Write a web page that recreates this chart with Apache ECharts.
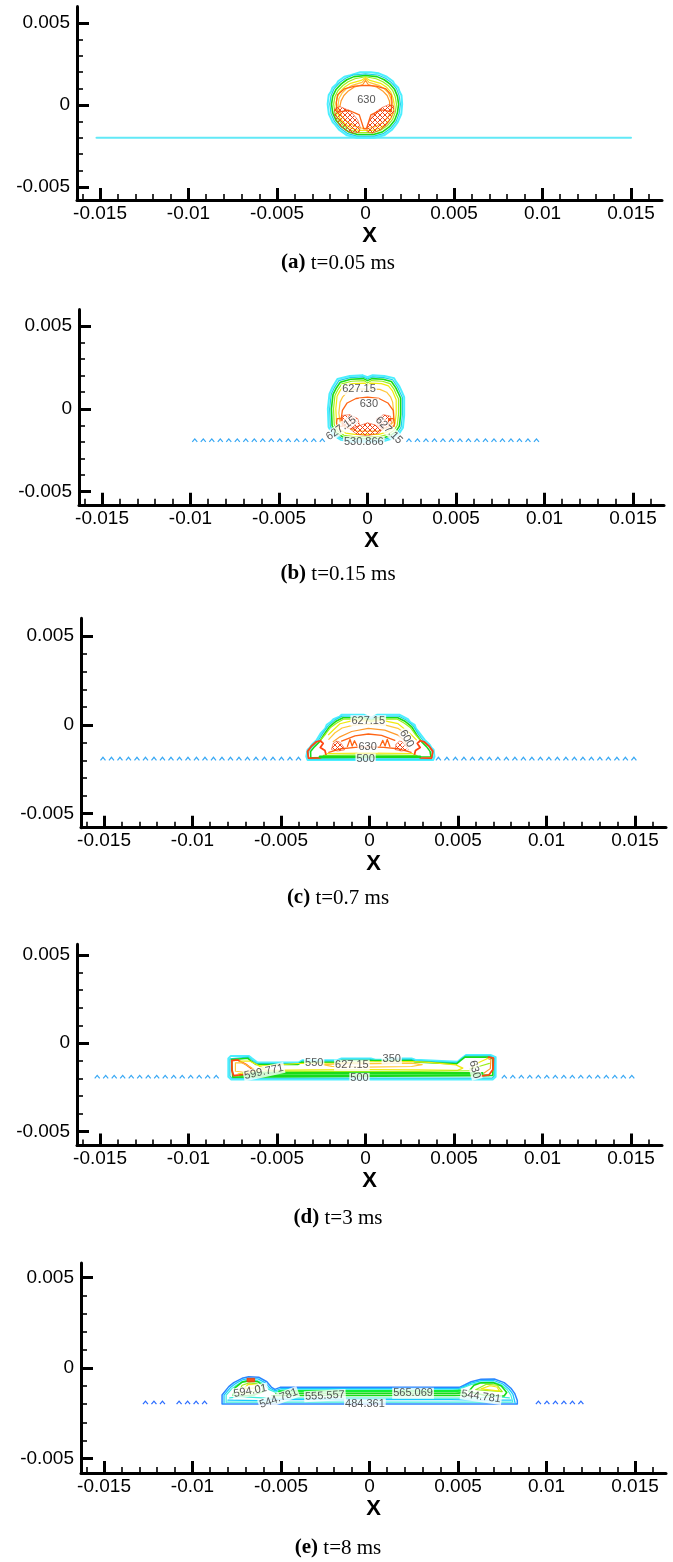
<!DOCTYPE html>
<html>
<head>
<meta charset="utf-8">
<script src="https://cdn.jsdelivr.net/npm/echarts@6/dist/echarts.min.js"></script>
<style>
html,body{margin:0;padding:0;background:#fff;}
#chart{width:673px;height:1562px;}
</style>
</head>
<body>
<div id="chart"></div>
<script>
// ---------- axis ticks (metres) ----------
const X_MAJOR = [-0.015, -0.01, -0.005, 0, 0.005, 0.01, 0.015];
const X_MAJOR_TEXT = ['-0.015', '-0.01', '-0.005', '0', '0.005', '0.01', '0.015'];
const X_MINOR = [-0.016, -0.014, -0.013, -0.012, -0.011, -0.009, -0.008, -0.007, -0.006,
  -0.004, -0.003, -0.002, -0.001, 0.001, 0.002, 0.003, 0.004, 0.006, 0.007, 0.008, 0.009,
  0.011, 0.012, 0.013, 0.014, 0.016];
const Y_MAJOR = [-0.005, 0, 0.005];
const Y_MAJOR_TEXT = ['-0.005', '0', '0.005'];
const Y_MINOR = [-0.004, -0.003, -0.002, -0.001, 0.001, 0.002, 0.003, 0.004];

const CAPTIONS = [['(a)', ' t=0.05 ms'], ['(b)', ' t=0.15 ms'], ['(c)', ' t=0.7 ms'], ['(d)', ' t=3 ms'], ['(e)', ' t=8 ms']];

// ---------- contour lines, in millimetres [x, y] ----------
// (a) t = 0.05 ms
const a_substrate = [[-15.2, -2.0], [15.0, -2.0]];
const a_rim_cyan = [[-0.3,2.0],[0.3,2.0],[0.75,1.93],[0.85,1.82],[1.2,1.72],[1.55,1.45],[1.62,1.3],[1.85,1.05],[1.92,0.82],[2.03,0.6],[2.07,0.05],[2.02,-0.55],[1.82,-1.05],[1.72,-1.2],[1.5,-1.5],[1.05,-1.85],[0.5,-2.0],[-0.5,-2.0],[-1.05,-1.85],[-1.5,-1.5],[-1.72,-1.2],[-1.85,-1.05],[-2.07,-0.55],[-2.14,0.05],[-2.08,0.6],[-1.95,0.82],[-1.87,1.05],[-1.62,1.3],[-1.55,1.45],[-1.2,1.72],[-0.85,1.82],[-0.75,1.93],[-0.3,2.0]];
const a_rim_teal = [[0,1.9],[0.7,1.83],[1.13,1.63],[1.46,1.37],[1.75,1.0],[1.9,0.57],[1.97,0.05],[1.9,-0.52],[1.73,-1.0],[1.42,-1.42],[1.0,-1.75],[0.48,-1.9],[-0.48,-1.9],[-1.0,-1.75],[-1.42,-1.42],[-1.75,-1.0],[-1.95,-0.52],[-2.02,0.05],[-1.95,0.57],[-1.77,1.0],[-1.46,1.37],[-1.13,1.63],[-0.7,1.83],[0,1.9]];
const a_rim_green = [[0,1.8],[0.65,1.73],[1.06,1.54],[1.37,1.29],[1.65,0.94],[1.8,0.54],[1.87,0.05],[1.8,-0.49],[1.64,-0.95],[1.34,-1.34],[0.94,-1.65],[0.45,-1.8],[-0.45,-1.8],[-0.94,-1.65],[-1.34,-1.34],[-1.66,-0.95],[-1.85,-0.49],[-1.92,0.05],[-1.85,0.54],[-1.67,0.94],[-1.37,1.29],[-1.06,1.54],[-0.65,1.73],[0,1.8]];
const a_rim_lime = [[0,1.72],[0.6,1.6],[0.98,1.42],[1.28,1.19],[1.54,0.87],[1.68,0.5],[1.75,0.05],[1.68,-0.45],[1.53,-0.88],[1.25,-1.25],[0.87,-1.53],[0.42,-1.68],[-0.42,-1.68],[-0.87,-1.53],[-1.25,-1.25],[-1.55,-0.88],[-1.73,-0.45],[-1.8,0.05],[-1.73,0.5],[-1.56,0.87],[-1.28,1.19],[-0.98,1.42],[-0.6,1.6],[0,1.72]];
const a_yellow = [[0,1.68],[0.25,1.5],[0.85,1.32],[1.17,1.1],[1.42,0.8],[1.55,0.45],[1.62,0.05],[1.56,-0.42],[1.42,-0.82],[1.15,-1.16],[0.8,-1.42],[0.38,-1.55],[-0.38,-1.55],[-0.8,-1.42],[-1.15,-1.16],[-1.44,-0.82],[-1.61,-0.42],[-1.67,0.05],[-1.6,0.45],[-1.45,0.8],[-1.17,1.1],[-0.85,1.32],[-0.25,1.5],[0,1.68]];
const a_amber = [[0,1.62],[0.2,1.38],[0.75,1.2],[1.05,1.0],[1.3,0.72],[1.43,0.4],[1.48,0.0],[1.44,-0.35],[1.3,-0.7],[1.0,-1.05],[0.6,-1.3],[0.2,-1.42],[-0.2,-1.42],[-0.6,-1.3],[-1.0,-1.05],[-1.33,-0.7],[-1.5,-0.35],[-1.55,0.0],[-1.5,0.4],[-1.33,0.72],[-1.07,1.0],[-0.75,1.2],[-0.2,1.38],[0,1.62]];
const a_orange = [[-1.45,-0.1],[-1.38,0.25],[-1.22,0.58],[-0.97,0.86],[-0.65,1.08],[-0.15,1.25],[0,1.5],[0.15,1.25],[0.65,1.08],[0.97,0.86],[1.22,0.58],[1.35,0.25],[1.38,-0.1]];
const a_630 = [[-1.6,-0.45],[-1.65,0.15],[-1.58,0.62],[-1.2,0.98],[-0.6,1.15],[0,1.2],[0.6,1.15],[1.15,0.98],[1.45,0.62],[1.5,0.15],[1.45,-0.4],[0.9,-0.3],[0.3,-0.6],[0.05,-1.45],[-0.1,-1.45],[-0.35,-0.6],[-0.95,-0.32],[-1.6,-0.45]];
const a_blob_left = [[-1.72,-0.2],[-1.45,-0.1],[-1.1,-0.25],[-0.75,-0.5],[-0.45,-0.9],[-0.3,-1.35],[-0.35,-1.65],[-0.7,-1.72],[-1.1,-1.55],[-1.45,-1.25],[-1.7,-0.8],[-1.78,-0.45],[-1.72,-0.2]];
const a_blob_right = [[1.58,-0.05],[1.3,0.02],[0.95,-0.15],[0.6,-0.4],[0.3,-0.8],[0.12,-1.25],[0.08,-1.62],[0.4,-1.72],[0.85,-1.5],[1.2,-1.2],[1.45,-0.8],[1.62,-0.4],[1.58,-0.05]];
const a_labels = [['630', 0.05, 0.3]];

// (b) t = 0.15 ms
const b_substrate = [[-9.9, -2.25, -2.0], [2.2, 9.8, -2.0]];
const b_rim_cyan = [[-0.27,2.02],[0,1.9],[0.29,2.02],[0.95,1.98],[1.5,1.85],[1.62,1.62],[1.8,1.35],[1.95,1.0],[2.07,0.7],[2.07,-0.4],[2.0,-1.15],[1.75,-1.55],[1.35,-1.82],[0.8,-2.0],[-0.9,-2.0],[-1.5,-1.88],[-1.95,-1.58],[-2.2,-1.1],[-2.24,0.0],[-2.15,0.9],[-1.98,1.3],[-1.7,1.8],[-1.0,1.98],[-0.27,2.02]];
const b_rim_teal = [[-0.25,1.92],[0,1.8],[0.27,1.92],[0.92,1.88],[1.42,1.75],[1.7,1.3],[1.85,0.95],[1.97,0.68],[1.97,-0.38],[1.9,-1.1],[1.67,-1.48],[1.3,-1.73],[0.78,-1.9],[-0.88,-1.9],[-1.45,-1.79],[-1.86,-1.52],[-2.1,-1.06],[-2.14,0.0],[-2.05,0.88],[-1.88,1.26],[-1.62,1.7],[-0.98,1.88],[-0.25,1.92]];
const b_rim_green = [[-0.23,1.82],[0,1.7],[0.25,1.82],[0.88,1.78],[1.35,1.65],[1.6,1.26],[1.75,0.92],[1.87,0.65],[1.87,-0.36],[1.8,-1.05],[1.58,-1.41],[1.24,-1.64],[0.75,-1.8],[-0.85,-1.8],[-1.4,-1.7],[-1.77,-1.45],[-2.0,-1.02],[-2.04,0.0],[-1.95,0.85],[-1.78,1.22],[-1.54,1.6],[-0.95,1.78],[-0.23,1.82]];
const b_rim_lime = [[-0.2,1.7],[0,1.55],[0.22,1.7],[0.84,1.66],[1.27,1.52],[1.5,1.18],[1.63,0.86],[1.75,0.6],[1.75,-0.34],[1.68,-1.0],[1.48,-1.32],[1.16,-1.54],[0.7,-1.68],[-0.8,-1.68],[-1.33,-1.6],[-1.67,-1.36],[-1.88,-0.97],[-1.92,0.0],[-1.84,0.8],[-1.67,1.16],[-1.45,1.5],[-0.9,1.66],[-0.2,1.7]];
const b_yellow = [[-0.15,1.55],[0,1.4],[0.18,1.55],[0.78,1.52],[1.18,1.38],[1.4,1.1],[1.52,0.8],[1.62,0.55],[1.62,-0.3],[1.55,-0.92],[1.36,-1.22],[1.06,-1.42],[0.64,-1.55],[-0.72,-1.55],[-1.24,-1.47],[-1.56,-1.26],[-1.75,-0.9],[-1.79,0.0],[-1.72,0.75],[-1.56,1.08],[-1.35,1.38],[-0.85,1.52],[-0.15,1.55]];
const b_amber = [[0,1.05],[0.15,1.2],[0.7,1.17],[1.08,1.0],[1.3,0.72],[1.42,0.4],[1.48,-0.25],[1.45,-0.8],[1.2,-1.1],[0.6,-1.35],[-0.6,-1.35],[-1.25,-1.1],[-1.55,-0.8],[-1.62,-0.25],[-1.55,0.4],[-1.4,0.72],[-1.15,1.0],[-0.75,1.17],[-0.15,1.2],[0,1.05]];
const b_630 = [[-1.5,-0.7],[-1.42,-0.1],[-1.15,0.35],[-0.65,0.62],[0,0.7],[0.65,0.62],[1.15,0.35],[1.45,-0.1],[1.5,-0.7]];
const b_loop_left = [[-1.72,-0.6],[-1.45,-0.58],[-1.4,-0.8],[-1.42,-1.05],[-1.7,-1.08],[-1.75,-0.85],[-1.72,-0.6]];
const b_loop_right = [[1.2,-0.58],[1.47,-0.6],[1.52,-0.85],[1.5,-1.06],[1.22,-1.05],[1.18,-0.8],[1.2,-0.58]];
const b_hatch_left = [[-1.42,-0.4],[-1.0,-0.36],[-0.55,-0.6],[-0.45,-1.0],[-0.8,-1.22],[-1.3,-1.15],[-1.45,-0.8],[-1.42,-0.4]];
const b_hatch_right = [[0.5,-0.6],[0.9,-0.36],[1.3,-0.45],[1.35,-0.85],[1.1,-1.15],[0.6,-1.1],[0.5,-0.6]];
const b_hatch_bottom = [[-1.0,-1.2],[-0.4,-1.0],[0.0,-0.85],[0.5,-1.0],[0.9,-1.2],[0.6,-1.5],[0.0,-1.62],[-0.6,-1.55],[-1.0,-1.2]];
const b_labels = [['627.15', -0.48, 1.17], ['630', 0.08, 0.3], ['627.15', -1.49, -1.18], ['627.15', 1.21, -1.3], ['530.866', -0.21, -2.0]];

// (c) t = 0.7 ms
const c_substrate = [[-15.2, -3.6, -2.0], [3.75, 15.5, -2.0]];
const c_rim_cyan = [[-1.58,0.56],[-0.3,0.56],[0.1,0.4],[0.42,0.56],[1.71,0.56],[1.8,0.45],[2.17,0.32],[2.3,0.15],[2.55,0.0],[2.62,-0.2],[2.83,-0.47],[3.12,-0.85],[3.4,-1.13],[3.5,-1.3],[3.62,-1.41],[3.67,-1.79],[3.6,-1.98],[-3.5,-1.98],[-3.57,-1.79],[-3.5,-1.41],[-3.38,-1.3],[-3.26,-1.13],[-2.98,-0.85],[-2.75,-0.47],[-2.5,-0.2],[-2.42,0.0],[-2.2,0.15],[-2.04,0.32],[-1.7,0.45],[-1.58,0.56]];
const c_rim_teal = [[-1.55,0.48],[-0.3,0.48],[0.1,0.32],[0.42,0.48],[1.66,0.48],[2.1,0.25],[2.47,-0.06],[2.74,-0.5],[3.03,-0.9],[3.31,-1.18],[3.52,-1.45],[3.57,-1.8],[3.5,-1.92],[-3.42,-1.92],[-3.48,-1.8],[-3.42,-1.45],[-3.18,-1.18],[-2.9,-0.9],[-2.66,-0.5],[-2.34,-0.06],[-1.98,0.25],[-1.55,0.48]];
const c_rim_green = [[-1.5,0.4],[-0.3,0.4],[0.1,0.24],[0.42,0.4],[1.6,0.4],[2.03,0.18],[2.39,-0.12],[2.65,-0.55],[2.94,-0.95],[3.22,-1.23],[3.42,-1.5],[3.47,-1.8],[3.4,-1.86],[-3.32,-1.86],[-3.38,-1.8],[-3.33,-1.5],[-3.1,-1.23],[-2.82,-0.95],[-2.57,-0.55],[-2.27,-0.12],[-1.92,0.18],[-1.5,0.4]];
const c_rim_lime = [[-2.75,-0.85],[-2.48,-0.52],[-2.2,-0.15],[-1.85,0.1],[-1.45,0.32],[-0.3,0.32],[0.1,0.16],[0.42,0.32],[1.55,0.32],[1.95,0.1],[2.3,-0.15],[2.57,-0.52],[2.85,-0.85]];
const c_yellow_627 = [[-2.32,-0.56],[-2.0,-0.25],[-1.67,0.06],[-1.01,0.22],[0.86,0.22],[1.61,0.06],[2.27,-0.47],[2.65,-0.85]];
const c_yellow_b = [[-2.3,-0.82],[-1.95,-0.45],[-1.55,-0.18],[-0.9,-0.02],[0,0.04],[0.9,-0.02],[1.6,-0.2],[2.05,-0.5],[2.35,-0.85]];
const c_orange_600 = [[-2.05,-0.95],[-1.67,-0.68],[-1.01,-0.38],[-0.07,-0.2],[0.86,-0.3],[1.61,-0.58],[1.99,-0.9],[2.15,-1.2]];
const c_redorange = [[-1.58,-0.92],[-0.82,-0.62],[-0.07,-0.52],[0.68,-0.6],[1.43,-0.88]];
const c_630 = [[-2.3,-1.55],[-1.6,-1.35],[-0.8,-1.27],[0,-1.25],[0.8,-1.27],[1.6,-1.35],[2.35,-1.55]];
const c_foot_left = [[-3.5,-1.5],[-3.3,-1.22],[-3.02,-0.97],[-2.78,-0.9],[-2.62,-1.05],[-2.78,-1.28],[-2.52,-1.45],[-2.45,-1.7],[-2.78,-1.86],[-3.45,-1.88],[-3.5,-1.5]];
const c_foot_right = [[3.58,-1.5],[3.38,-1.22],[3.1,-0.97],[2.86,-0.9],[2.7,-1.05],[2.86,-1.28],[2.6,-1.45],[2.53,-1.7],[2.86,-1.86],[3.5,-1.88],[3.58,-1.5]];
const c_spike_l = [[-1.25,-1.22],[-1.1,-0.82],[-0.98,-1.2],[-0.85,-0.9],[-0.7,-1.2]];
const c_spike_r = [[0.6,-1.2],[0.75,-0.88],[0.88,-1.2],[1.0,-0.82],[1.15,-1.22]];
const c_bot_yellow = [[-2.4,-1.62],[0,-1.6],[2.45,-1.62]];
const c_bot_lime = [[-2.6,-1.72],[0,-1.7],[2.65,-1.72]];
const c_bot_green = [[-2.8,-1.8],[0,-1.8],[2.85,-1.8]];
const c_flame_left = [[-2.15,-1.4],[-2.05,-1.05],[-1.85,-0.92],[-1.65,-1.0],[-1.5,-1.2],[-1.42,-1.42],[-1.8,-1.48],[-2.15,-1.4]];
const c_flame_right = [[1.45,-1.4],[1.5,-1.1],[1.7,-0.92],[1.95,-0.98],[2.12,-1.2],[2.2,-1.42],[1.8,-1.48],[1.45,-1.4]];
const c_labels = [['627.15', -0.07, 0.22], ['600', 2.1, -0.78], ['630', -0.11, -1.27], ['500', -0.22, -1.92]];

// (d) t = 3 ms
const d_substrate = [[-15.3, -8.0, -2.0], [7.7, 15.5, -2.0]];
const d_rim_cyan = [[-7.75,-0.87],[-7.61,-0.74],[-6.58,-0.74],[-6.4,-0.88],[-6.1,-1.1],[-3.77,-1.1],[-3.55,-0.97],[-1.6,-0.97],[-1.35,-0.87],[0.3,-0.87],[0.55,-0.95],[1.1,-0.95],[1.3,-0.87],[2.6,-0.87],[2.8,-0.95],[5.2,-1.06],[5.45,-0.85],[5.68,-0.68],[7.09,-0.68],[7.35,-0.8],[7.35,-1.91],[7.2,-2.06],[-7.6,-2.06],[-7.75,-1.91],[-7.75,-0.87]];
const d_rim_teal = [[-7.66,-0.9],[-7.55,-0.8],[-6.62,-0.8],[-6.45,-0.94],[-6.14,-1.16],[-3.8,-1.16],[-3.58,-1.03],[-1.6,-1.03],[-1.35,-0.93],[0.3,-0.93],[0.55,-1.01],[1.1,-1.01],[1.3,-0.93],[2.6,-0.93],[2.8,-1.01],[5.17,-1.12],[5.42,-0.91],[5.65,-0.74],[7.04,-0.74],[7.27,-0.85],[7.27,-1.87],[7.15,-1.99],[-7.55,-1.99],[-7.66,-1.87],[-7.66,-0.9]];
const d_rim_green = [[-7.57,-0.94],[-7.49,-0.86],[-6.66,-0.86],[-6.5,-1.0],[-6.18,-1.22],[-3.83,-1.22],[-3.6,-1.09],[-1.6,-1.09],[-1.35,-0.99],[2.6,-0.99],[2.8,-1.07],[5.14,-1.18],[5.4,-0.97],[5.62,-0.8],[6.99,-0.8],[7.19,-0.9],[7.19,-1.83],[7.1,-1.93],[-7.5,-1.93],[-7.57,-1.83],[-7.57,-0.94]];
const d_yellow_550 = [[-6.0,-1.3],[-3.8,-1.16],[-1.6,-1.13],[0.3,-1.06],[2.6,-1.05],[3.6,-1.1],[5.1,-1.24],[5.5,-1.42],[5.2,-1.55],[3.0,-1.52],[0,-1.5],[-3.0,-1.52],[-5.6,-1.55],[-6.0,-1.3]];
const d_amber_627 = [[-2.4,-1.22],[-1.6,-1.18],[0.5,-1.17],[2.6,-1.14],[3.2,-1.22],[2.6,-1.33],[0,-1.36],[-1.9,-1.32],[-2.4,-1.22]];
const d_lime_bot = [[-6.4,-1.6],[-3.0,-1.61],[0,-1.61],[3.0,-1.61],[6.0,-1.57]];
const d_green_bot1 = [[-6.9,-1.72],[-3.0,-1.71],[3.0,-1.71],[6.6,-1.72]];
const d_green_bot2 = [[-7.1,-1.83],[0,-1.83],[7.0,-1.83]];
const d_left_red = [[-7.55,-1.0],[-7.25,-0.95],[-6.75,-1.22],[-6.3,-1.55],[-6.85,-1.78],[-7.45,-1.85],[-7.55,-1.55],[-7.55,-1.0]];
const d_left_amber = [[-7.35,-1.12],[-6.95,-1.12],[-6.3,-1.48],[-6.95,-1.64],[-7.35,-1.6],[-7.35,-1.12]];
const d_left_yellow = [[-7.1,-1.02],[-6.55,-1.02],[-5.7,-1.45],[-6.6,-1.66],[-7.2,-1.74]];
const d_right_red = [[6.95,-0.8],[7.22,-0.86],[7.2,-1.5],[6.98,-1.8],[6.5,-1.88]];
const d_right_amber = [[6.85,-0.85],[7.08,-0.95],[7.05,-1.45],[6.7,-1.7]];
const d_right_fan1 = [[5.9,-1.45],[6.4,-1.1],[6.9,-0.88]];
const d_right_fan2 = [[5.9,-1.48],[6.5,-1.3],[7.0,-1.15]];
const d_labels = [['599.771', -5.74, -1.63], ['550', -2.9, -1.14], ['627.15', -0.77, -1.26], ['350', 1.48, -0.89], ['630', 6.17, -1.5], ['500', -0.34, -2.0]];

// (e) t = 8 ms
const e_substrate = [[-12.8, -11.3, -2.0], [-10.9, -8.9, -2.0], [9.4, 12.1, -2.0]];
const e_rim_blue = [[-8.33,-1.99],[-8.33,-1.49],[-8.24,-1.38],[-7.95,-1.03],[-7.67,-0.81],[-7.2,-0.57],[-6.83,-0.48],[-6.26,-0.51],[-5.8,-0.76],[-5.55,-1.05],[-5.35,-1.18],[-5.05,-1.07],[5.08,-1.07],[5.37,-0.94],[5.74,-0.76],[6.3,-0.62],[7.05,-0.61],[7.61,-0.81],[7.99,-1.12],[8.2,-1.4],[8.35,-1.8],[8.35,-1.99],[-8.33,-1.99]];
const e_rim_cyan = [[-8.22,-1.95],[-8.22,-1.5],[-8.12,-1.4],[-7.86,-1.08],[-7.6,-0.88],[-7.18,-0.65],[-6.83,-0.57],[-6.3,-0.6],[-5.88,-0.82],[-5.62,-1.12],[-5.33,-1.26],[-5.0,-1.14],[5.05,-1.14],[5.35,-1.01],[5.74,-0.84],[6.3,-0.7],[7.02,-0.69],[7.52,-0.87],[7.88,-1.16],[8.1,-1.44],[8.23,-1.95]];
const e_rim_mint = [[-8.1,-1.9],[-8.1,-1.5],[-8.0,-1.42],[-7.76,-1.13],[-7.52,-0.95],[-7.15,-0.73],[-6.83,-0.66],[-6.35,-0.69],[-5.96,-0.88],[-5.7,-1.18],[-5.32,-1.33],[-4.95,-1.21],[5.0,-1.21],[5.32,-1.08],[5.72,-0.92],[6.3,-0.78],[6.98,-0.77],[7.44,-0.93],[7.78,-1.2],[7.98,-1.48],[8.1,-1.9]];
const e_green_top = [[-5.1,-1.3],[-4.6,-1.28],[4.7,-1.28],[5.2,-1.25]];
const e_green_mid = [[-5.3,-1.42],[-4.6,-1.4],[4.8,-1.4],[5.4,-1.36]];
const e_green_low = [[-5.5,-1.53],[-4.6,-1.52],[4.8,-1.52],[5.6,-1.5]];
const e_cyan_low1 = [[-7.9,-1.65],[-7.3,-1.58],[-6.6,-1.62],[-5.8,-1.66],[5.8,-1.66],[6.5,-1.62],[7.2,-1.58],[7.9,-1.65]];
const e_cyan_low2 = [[-8.0,-1.78],[-6.2,-1.8],[-5.5,-1.75],[-4.6,-1.73],[4.6,-1.75],[6.2,-1.78],[8.0,-1.78]];
const e_cyan_low3 = [[-8.05,-1.88],[0,-1.88],[8.05,-1.88]];
const e_lb_green = [[-7.7,-1.5],[-7.6,-1.1],[-7.2,-0.78],[-6.83,-0.72],[-6.3,-0.76],[-6.05,-0.95],[-6.0,-1.3],[-6.6,-1.5],[-7.2,-1.55],[-7.7,-1.5]];
const e_lb_lime = [[-7.4,-1.35],[-7.2,-0.95],[-6.8,-0.82],[-6.35,-0.88],[-6.2,-1.1],[-6.5,-1.3],[-7.0,-1.4],[-7.4,-1.35]];
const e_lb_yellow = [[-7.1,-1.15],[-6.85,-0.9],[-6.4,-0.95],[-6.45,-1.1],[-7.1,-1.15]];
const e_lb_hot = [[-6.92,-0.57],[-6.49,-0.57],[-6.49,-0.76],[-6.92,-0.76],[-6.92,-0.57]];
const e_rb_green = [[5.6,-1.3],[5.9,-0.95],[6.3,-0.82],[7.0,-0.82],[7.45,-1.0],[7.75,-1.35],[7.6,-1.55],[6.5,-1.5],[5.6,-1.3]];
const e_rb_lime1 = [[6.0,-1.2],[6.6,-0.9],[7.2,-0.95],[7.5,-1.3],[6.0,-1.2]];
const e_rb_lime2 = [[6.3,-1.15],[6.8,-0.98],[7.2,-1.05],[7.35,-1.28],[6.3,-1.15]];
const e_labels = [['594.01', -6.74, -1.27], ['544.781', -5.14, -1.68], ['555.557', -2.52, -1.53], ['565.069', 2.46, -1.40], ['544.781', 6.3, -1.58], ['484.361', -0.26, -1.99]];

// ---------- styles ----------
const MM = 0.001;
const SANS = '"Liberation Sans", Arial, Helvetica, sans-serif';
const SERIF = '"Liberation Serif", "Times New Roman", Times, serif';
const LINE_STYLE = {
  cyanLine: { color: '#62e9f7', width: 2 },
  cyan:     { color: '#4cefff', width: 2 },
  teal:     { color: '#1fcfe8', width: 1.2 },
  green:    { color: '#18dc18', width: 1.6 },
  greenW:   { color: '#18dc18', width: 2.6 },
  lime:     { color: '#9cef1c', width: 1.2 },
  yellow:   { color: '#f1ea0c', width: 1.2 },
  amber:    { color: '#ffc63a', width: 1.2 },
  orange:   { color: '#ff9a2a', width: 1.2 },
  redorange:{ color: '#ff6414', width: 1.3 },
  red:      { color: '#ff4512', width: 1.8 },
  blue:     { color: '#2a86ff', width: 1.5 },
  sky:      { color: '#18c8ff', width: 1.3 },
  mint:     { color: '#3eeedc', width: 1.2 },
  brightGreen: { color: '#10f030', width: 2.4 }
};
const HATCH_COLOR = '#f0461a';
const CARET_COLOR = [null, '#38a8f4', '#38a8f4', '#38a8f4', '#2a6cff'];
const LABEL_TILT = [[0], [0, 0, 35, -45, 0], [0, -60, 0, 0], [12, 0, 0, 0, -75, 0], [10, 20, 3, 0, -8, 0]];

// panel frames in pixels; y range upper limit per panel (metres)
const FRAME = [
  { left: 77, top: 6.6,   height: 193.5, ymax: 0.006,  cap: 263 },
  { left: 79, top: 309.4, height: 195.4, ymax: 0.006,  cap: 574 },
  { left: 81, top: 618.3, height: 209.4, ymax: 0.006,  cap: 898 },
  { left: 77, top: 944.2, height: 201.2, ymax: 0.0056, cap: 1218 },
  { left: 81, top: 1263,  height: 210,   ymax: 0.0058, cap: 1548 }
];
const PLOT_W = 585, XMIN = -0.0163, XMAX = 0.01675, YMIN = -0.0058, CAPTION_X = 338;

// ---------- what each panel draws ----------
const PANEL_LINES = [
  [[a_substrate,'cyanLine'],[a_rim_cyan,'cyan'],[a_rim_teal,'teal'],[a_rim_green,'green'],[a_rim_lime,'lime'],[a_yellow,'yellow'],[a_amber,'amber'],[a_orange,'orange'],[a_630,'redorange']],
  [[b_rim_cyan,'cyan'],[b_rim_teal,'teal'],[b_rim_green,'green'],[b_rim_lime,'lime'],[b_yellow,'yellow'],[b_amber,'amber'],[b_630,'redorange'],[b_loop_left,'redorange'],[b_loop_right,'redorange']],
  [[c_rim_cyan,'cyan'],[c_rim_teal,'teal'],[c_rim_green,'green'],[c_rim_lime,'lime'],[c_yellow_627,'yellow'],[c_yellow_b,'amber'],[c_orange_600,'orange'],[c_redorange,'redorange'],[c_630,'redorange'],[c_foot_left,'red'],[c_foot_right,'red'],[c_spike_l,'redorange'],[c_spike_r,'redorange'],[c_bot_yellow,'yellow'],[c_bot_lime,'lime'],[c_bot_green,'greenW']],
  [[d_rim_cyan,'cyan'],[d_rim_teal,'teal'],[d_rim_green,'green'],[d_yellow_550,'yellow'],[d_amber_627,'amber'],[d_lime_bot,'lime'],[d_green_bot1,'greenW'],[d_green_bot2,'green'],[d_left_red,'red'],[d_left_amber,'amber'],[d_left_yellow,'yellow'],[d_right_red,'red'],[d_right_amber,'orange'],[d_right_fan1,'yellow'],[d_right_fan2,'lime']],
  [[e_rim_blue,'blue'],[e_rim_cyan,'sky'],[e_rim_mint,'mint'],[e_green_top,'brightGreen'],[e_green_mid,'green'],[e_green_low,'green'],[e_cyan_low1,'mint'],[e_cyan_low2,'sky'],[e_cyan_low3,'mint'],[e_lb_green,'green'],[e_lb_lime,'lime'],[e_lb_yellow,'yellow'],[e_rb_green,'green'],[e_rb_lime1,'lime'],[e_rb_lime2,'yellow']]
];
const PANEL_HATCH = [[a_blob_left, a_blob_right], [b_hatch_left, b_hatch_right, b_hatch_bottom], [c_flame_left, c_flame_right], [], []];
const PANEL_SOLID = [[], [], [], [], [e_lb_hot]];
const PANEL_SUBSTRATE = [[], b_substrate, c_substrate, d_substrate, e_substrate];
const PANEL_LABELS = [a_labels, b_labels, c_labels, d_labels, e_labels];

// small cross-hatch tile for the densely packed hot contours
function hatchTile() {
  const c = document.createElement('canvas');
  c.width = 5; c.height = 5;
  const g = c.getContext('2d');
  g.strokeStyle = HATCH_COLOR; g.lineWidth = 1;
  g.beginPath(); g.moveTo(0, 0); g.lineTo(5, 5); g.moveTo(5, 0); g.lineTo(0, 5); g.stroke();
  return c;
}
const HATCH = hatchTile();

const toM = p => [p[0] * MM, p[1] * MM];
const labelOf = (vals, texts) => v => {
  const k = vals.findIndex(t => Math.abs(t - v) < 1e-9);
  return k < 0 ? '' : texts[k];
};

const grid = [], xAxis = [], yAxis = [], series = [], graphic = [];

FRAME.forEach((f, i) => {
  grid.push({ left: f.left, top: f.top, width: PLOT_W, height: f.height, containLabel: false, outerBoundsMode: 'none' });
  const ax = 2 * i;
  xAxis.push({
    type: 'value', gridIndex: i, min: XMIN, max: XMAX, position: 'bottom',
    axisLine: { show: true, onZero: false, lineStyle: { color: '#000', width: 3 } },
    axisTick: { show: true, inside: true, length: 12, customValues: X_MAJOR, lineStyle: { color: '#000', width: 3 } },
    axisLabel: { show: true, customValues: X_MAJOR, formatter: labelOf(X_MAJOR, X_MAJOR_TEXT), margin: 4, color: '#000', fontSize: 19, fontFamily: SANS },
    splitLine: { show: false },
    name: 'X', nameLocation: 'middle', nameGap: 25,
    nameTextStyle: { color: '#000', fontSize: 22, fontWeight: 'bold', fontFamily: SANS }
  });
  xAxis.push({
    type: 'value', gridIndex: i, min: XMIN, max: XMAX, position: 'bottom',
    axisLine: { show: false, onZero: false },
    axisTick: { show: true, inside: true, length: 6, customValues: X_MINOR, lineStyle: { color: '#000', width: 1.6 } },
    axisLabel: { show: false }, splitLine: { show: false }
  });
  yAxis.push({
    type: 'value', gridIndex: i, min: YMIN, max: f.ymax, position: 'left',
    axisLine: { show: true, onZero: false, lineStyle: { color: '#000', width: 3 } },
    axisTick: { show: true, inside: true, length: 12, customValues: Y_MAJOR, lineStyle: { color: '#000', width: 3 } },
    axisLabel: { show: true, customValues: Y_MAJOR, formatter: labelOf(Y_MAJOR, Y_MAJOR_TEXT), margin: 7, color: '#000', fontSize: 19, fontFamily: SANS },
    splitLine: { show: false }
  });
  yAxis.push({
    type: 'value', gridIndex: i, min: YMIN, max: f.ymax, position: 'left',
    axisLine: { show: false, onZero: false },
    axisTick: { show: true, inside: true, length: 6, customValues: Y_MINOR, lineStyle: { color: '#000', width: 1.6 } },
    axisLabel: { show: false }, splitLine: { show: false }
  });

  // substrate drawn as a row of little carets between two x limits
  const segs = PANEL_SUBSTRATE[i];
  if (segs.length) {
    series.push({
      type: 'custom', coordinateSystem: 'cartesian2d', xAxisIndex: ax, yAxisIndex: ax,
      silent: true, z: 1, clip: false,
      data: segs.map(s => [s[0] * MM, s[2] * MM]),
      renderItem: (params, api) => {
        const s = segs[params.dataIndex];
        const p1 = api.coord([s[0] * MM, s[2] * MM]);
        const p2 = api.coord([s[1] * MM, s[2] * MM]);
        const kids = [];
        for (let x = p1[0]; x + 5 <= p2[0]; x += 8.5) {
          kids.push({ type: 'polyline', shape: { points: [[x, p1[1]], [x + 2.5, p1[1] - 3], [x + 5, p1[1]]] },
            style: { stroke: CARET_COLOR[i], lineWidth: 1.2, fill: null } });
        }
        return { type: 'group', children: kids };
      }
    });
  }

  // contour lines
  PANEL_LINES[i].forEach(([pts, key]) => {
    series.push({
      type: 'line', xAxisIndex: ax, yAxisIndex: ax, data: pts.map(toM),
      symbol: 'none', showSymbol: false, silent: true, z: 2, clip: false,
      lineStyle: { color: LINE_STYLE[key].color, width: LINE_STYLE[key].width, cap: 'round', join: 'round' }
    });
  });

  // hatched and solid hot spots
  const polys = PANEL_HATCH[i].map(p => ({ p, fill: { image: HATCH, repeat: 'repeat' }, stroke: HATCH_COLOR, lw: 0.6 }))
    .concat(PANEL_SOLID[i].map(p => ({ p, fill: '#f25418', stroke: '#e8400f', lw: 0.9 })));
  if (polys.length) {
    series.push({
      type: 'custom', coordinateSystem: 'cartesian2d', xAxisIndex: ax, yAxisIndex: ax,
      silent: true, z: 3, clip: false,
      data: polys.map(o => toM(o.p[0])),
      renderItem: (params, api) => {
        const o = polys[params.dataIndex];
        return { type: 'polygon', shape: { points: o.p.map(q => api.coord(toM(q))) },
          style: { fill: o.fill, stroke: o.stroke, lineWidth: o.lw } };
      }
    });
  }

  // contour value labels
  series.push({
    type: 'scatter', xAxisIndex: ax, yAxisIndex: ax, symbolSize: 1, silent: true, z: 6,
    itemStyle: { color: 'rgba(0,0,0,0)' },
    data: PANEL_LABELS[i].map((l, k) => ({ name: l[0], value: [l[1] * MM, l[2] * MM], label: { rotate: LABEL_TILT[i][k] || 0 } })),
    label: { show: true, position: 'inside', formatter: '{b}', color: '#2a2a2a', fontSize: 11, fontFamily: SANS,
      backgroundColor: '#fff', padding: [0, 1] }
  });

  graphic.push({
    type: 'text', x: CAPTION_X, y: f.cap, silent: true,
    style: {
      text: '{b|' + CAPTIONS[i][0] + '}' + CAPTIONS[i][1],
      fontFamily: SERIF, fontSize: 21, fill: '#000', align: 'center', verticalAlign: 'middle',
      rich: { b: { fontFamily: SERIF, fontSize: 21, fontWeight: 'bold', fill: '#000' } }
    }
  });
});

const chart = echarts.init(document.getElementById('chart'), null, { renderer: 'canvas' });
chart.setOption({ animation: false, backgroundColor: '#fff', grid, xAxis, yAxis, series, graphic });
</script>
</body>
</html>
